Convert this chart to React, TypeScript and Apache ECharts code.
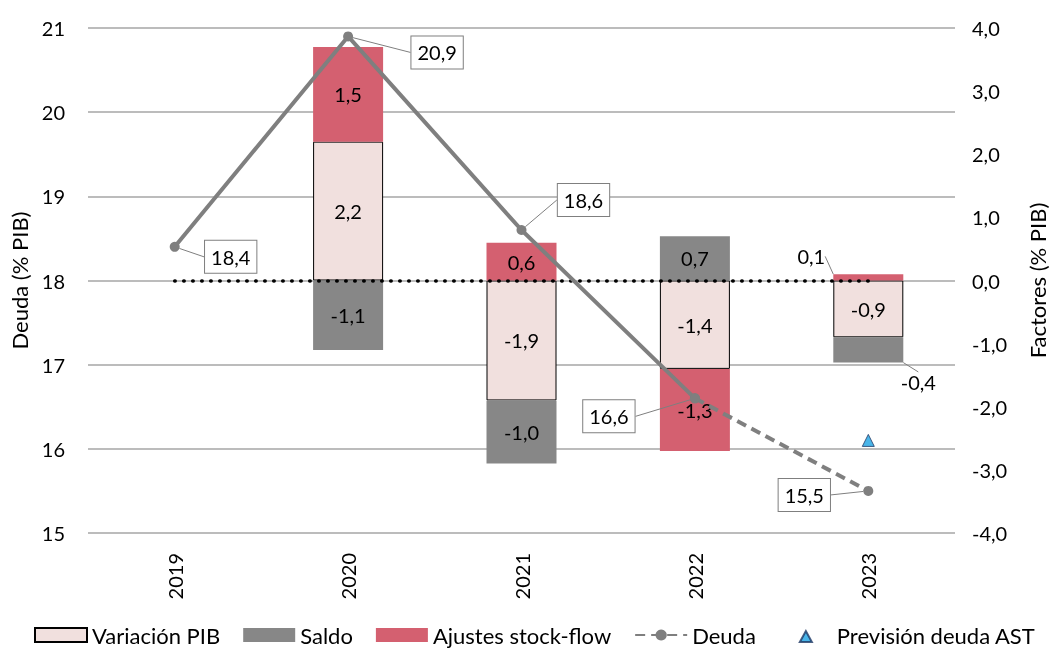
import React, { useEffect, useRef } from "react";
import * as echarts from "echarts";

const categories = ["2019", "2020", "2021", "2022", "2023"];
const variacionPIB = [null, 2.2, -1.9, -1.4, -0.9];
const saldo = [null, -1.1, -1.0, 0.7, -0.4];
const ajustes = [null, 1.5, 0.6, -1.3, 0.1];
const deuda = [18.4, 20.9, 18.6, 16.6, 15.5];
const prevision = [null, null, null, null, 16.1];
const lastObserved = 3; // 2022: solid line up to here, dashed afterwards

const fmt = (v: number) => v.toFixed(1).replace(".", ",");

// label offsets (layout only)
const deudaLabelOffsets = [
  [56, 10],
  [89, 16],
  [62, -30],
  [-86, 18],
  [-64, 4],
];

const FONT = "Lato";
const GRAY_LINE = "#7F7F7F";
// small triangle centred in a wider legend slot
const LEGEND_TRIANGLE = "path://M0,0 M52,14 M20,14 L26,3 L32,14 Z";

export default function App() {
  const ref = useRef<HTMLDivElement>(null);
  useEffect(() => {
    const chart = echarts.init(ref.current!, undefined, { renderer: "svg" });
    const solid = deuda.map((v, i) => (i <= lastObserved ? v : null));
    const dashed = deuda.map((v, i) =>
      i < lastObserved ? null : i === lastObserved ? { value: v, label: { show: false } } : v
    );
    const labelBox = {
      show: true,
      position: "inside",
      formatter: (p: any) => fmt(p.value),
      backgroundColor: "#fff",
      borderColor: GRAY_LINE,
      borderWidth: 1,
      padding: [7, 6, 5, 6],
      fontSize: 20,
      color: "#000",
      fontFamily: FONT,
    };
    const barLabel = {
      show: true,
      position: "inside",
      formatter: (p: any) => (p.value == null ? "" : fmt(p.value)),
      fontSize: 20,
      color: "#000",
      fontFamily: FONT,
    };
    const option: any = {
      animation: false,
      textStyle: { fontFamily: FONT },
      grid: { left: 88, right: 98, top: 28, bottom: 117 },
      legend: {
        top: 624,
        left: 34,
        padding: 0,
        itemWidth: 52,
        itemHeight: 14,
        itemGap: 23,
        textStyle: { fontSize: 22, lineHeight: 22, color: "#000", fontFamily: FONT },
        data: [
          { name: "Variación PIB", icon: "rect" },
          { name: "Saldo", icon: "rect" },
          { name: "Ajustes stock-flow", icon: "rect" },
          { name: "Deuda" },
          { name: "Previsión deuda AST", icon: LEGEND_TRIANGLE },
        ],
      },
      xAxis: {
        type: "category",
        data: categories,
        axisLine: { show: false },
        axisTick: { show: false },
        axisLabel: { rotate: 90, margin: 20, fontSize: 20, color: "#000", fontFamily: FONT },
      },
      yAxis: [
        {
          type: "value",
          min: 15,
          max: 21,
          interval: 1,
          name: "Deuda (% PIB)",
          nameLocation: "middle",
          nameGap: 58,
          nameTextStyle: { fontSize: 22, color: "#000", fontFamily: FONT },
          axisLine: { show: false },
          axisTick: { show: false },
          axisLabel: { fontSize: 20, color: "#000", margin: 23, fontFamily: FONT },
          splitLine: { lineStyle: { color: "#A6A6A6", width: 1.5 } },
        },
        {
          type: "value",
          min: -4,
          max: 4,
          interval: 1,
          position: "right",
          name: "Factores (% PIB)",
          nameLocation: "middle",
          nameGap: 71,
          nameTextStyle: { fontSize: 22, color: "#000", fontFamily: FONT },
          axisLine: { show: false },
          axisTick: { show: false },
          axisLabel: { fontSize: 20, color: "#000", margin: 17, formatter: (v: number) => fmt(v), fontFamily: FONT },
          splitLine: { show: false },
        },
      ],
      series: [
        {
          name: "Variación PIB",
          type: "bar",
          stack: "f",
          yAxisIndex: 1,
          barWidth: 70,
          data: variacionPIB,
          itemStyle: { color: "#F1E0DE", borderColor: "#000", borderWidth: 1 },
          label: barLabel,
        },
        {
          name: "Saldo",
          type: "bar",
          stack: "f",
          yAxisIndex: 1,
          barWidth: 70,
          data: saldo,
          itemStyle: { color: "#878787" },
          label: barLabel,
          labelLine: { show: true, lineStyle: { color: GRAY_LINE, width: 1 } },
          labelLayout: (p: any) => (p.dataIndex === 4 ? { dx: 50, dy: 32 } : {}),
        },
        {
          name: "Ajustes stock-flow",
          type: "bar",
          stack: "f",
          yAxisIndex: 1,
          barWidth: 70,
          data: ajustes,
          itemStyle: { color: "#D46070" },
          label: barLabel,
          labelLine: { show: true, lineStyle: { color: GRAY_LINE, width: 1 } },
          labelLayout: (p: any) => (p.dataIndex === 4 ? { dx: -57, dy: -21 } : {}),
        },
        {
          name: "zero",
          type: "line",
          yAxisIndex: 1,
          data: [],
          z: 5,
          markLine: {
            silent: true,
            symbol: ["none", "none"],
            label: { show: false },
            lineStyle: { color: "#000", width: 3.5, type: [0.5, 8.5], cap: "round" },
            data: [[{ xAxis: categories[0], yAxis: 0 }, { xAxis: categories[categories.length - 1], yAxis: 0 }]],
          },
        },
        {
          name: "Deuda observada",
          type: "line",
          yAxisIndex: 0,
          data: solid,
          z: 6,
          color: GRAY_LINE,
          symbol: "circle",
          symbolSize: 10,
          lineStyle: { color: GRAY_LINE, width: 4 },
          label: labelBox,
          labelLine: { show: true, lineStyle: { color: GRAY_LINE, width: 1 } },
          labelLayout: (p: any) => ({ dx: deudaLabelOffsets[p.dataIndex][0], dy: deudaLabelOffsets[p.dataIndex][1] }),
        },
        {
          name: "Deuda",
          type: "line",
          yAxisIndex: 0,
          data: dashed,
          z: 6,
          color: GRAY_LINE,
          symbol: "circle",
          symbolSize: 10,
          lineStyle: { color: GRAY_LINE, width: 4, type: [10, 6] },
          label: labelBox,
          labelLine: { show: true, lineStyle: { color: GRAY_LINE, width: 1 } },
          labelLayout: (p: any) => ({ dx: deudaLabelOffsets[p.dataIndex][0], dy: deudaLabelOffsets[p.dataIndex][1] }),
        },
        {
          name: "Previsión deuda AST",
          type: "scatter",
          yAxisIndex: 0,
          data: prevision,
          symbol: "triangle",
          symbolSize: 12,
          itemStyle: { color: "#1BA3E4", borderColor: "#1F3864", borderWidth: 1 },
          z: 7,
        },
      ],
    };
    chart.setOption(option);
    return () => chart.dispose();
  }, []);
  return <div ref={ref} style={{ position: "fixed", left: 0, top: 0, width: 1056, height: 650 }} />;
}
